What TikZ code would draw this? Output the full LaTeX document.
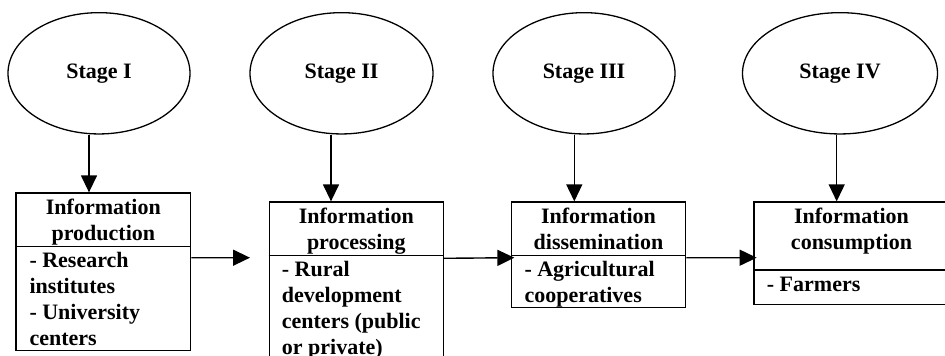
\documentclass[tikz,border=0pt]{standalone}
\usepackage{fontspec}
\setmainfont{Liberation Serif}
\usetikzlibrary{arrows.meta,shapes.geometric}
\begin{document}
\begin{tikzpicture}[x=1pt,y=-1pt,
  every node/.style={font=\fontsize{22}{25.8}\selectfont\bfseries},
  stage/.style={draw,ellipse,line width=1.3pt,inner sep=0pt,minimum height=121.3pt},
  box/.style={draw,rectangle,line width=1.3pt,inner sep=0pt},
  title/.style={anchor=base,align=center,inner sep=0pt},
  body/.style={anchor=base west,align=left,inner sep=0pt},
  arr/.style={line width=1.4pt,-{Triangle[length=17pt,width=16pt]}},
  divider/.style={line width=1.3pt}]
\useasboundingbox (0,0) rectangle (945,356);
\fill[white] (0,0) rectangle (945,356);
% stages
\node[stage,minimum width=182pt] (s1) at (99,73.3) {Stage I};
\node[stage,minimum width=183pt] (s2) at (341.5,73.3) {Stage II};
\node[stage,minimum width=182pt] (s3) at (584,73.3) {Stage III};
\node[stage,minimum width=195pt] (s4) at (840,73.3) {Stage IV};
% boxes
\node[box,minimum width=174.7pt,minimum height=157.7pt] (b1) at (103.35,271.85) {};
\node[box,minimum width=174pt,minimum height=170pt] (b2) at (356.3,287) {};
\node[box,minimum width=174.4pt,minimum height=105.3pt] (b3) at (598.5,254.65) {};
\node[box,minimum width=195pt,minimum height=102.7pt] (b4) at (851.5,253.35) {};
% dividers
\draw[divider] (b1.west |- 0,246.3) -- (b1.east |- 0,246.3);
\draw[divider] (b2.west |- 0,255.3) -- (b2.east |- 0,255.3);
\draw[divider] (b3.west |- 0,255.3) -- (b3.east |- 0,255.3);
\draw[divider] (b4.west |- 0,270) -- (b4.east |- 0,270);
% titles (anchor = baseline of last line)
\node[title] (t1) at (103.35,240.6) {Information\\production};
\node[title] (t2) at (356.3,249.6) {Information\\processing};
\node[title] (t3) at (598.5,249.6) {Information\\dissemination};
\node[title] (t4) at (851.5,249.6) {Information\\consumption};
% bodies (anchor = baseline of last line)
\node[body] (c1) at (29.3,345.1) {- Research\\institutes\\- University\\centers};
\node[body] (c2) at (281.7,354.1) {- Rural\\development\\centers (public\\or private)};
\node[body] (c3) at (524.3,302.5) {- Agricultural\\cooperatives};
\node[body] (c4) at (766.7,291.7) {- Farmers};
% vertical arrows
\draw[arr] ([xshift=-10pt]s1.south) -- ([xshift=-14.35pt]b1.north);
\draw[arr] ([xshift=-10.5pt]s2.south) -- ([xshift=-25.3pt]b2.north);
\draw[arr] ([xshift=-9.7pt]s3.south) -- ([xshift=-24.2pt]b3.north);
\draw[arr] ([xshift=-3.3pt]s4.south) -- ([xshift=-14.8pt]b4.north);
% horizontal arrows
\coordinate (e1) at (250,257.7);
\draw[arr] ([yshift=14.15pt]b1.east) -- (e1);
\draw[arr] ([yshift=28.7pt]b2.east) -- ([xshift=3.7pt,yshift=-3.05pt]b3.west);
\draw[arr] ([yshift=-3.05pt]b3.east) -- ([xshift=3.3pt,yshift=-4.35pt]b4.west);
\end{tikzpicture}
\end{document}
